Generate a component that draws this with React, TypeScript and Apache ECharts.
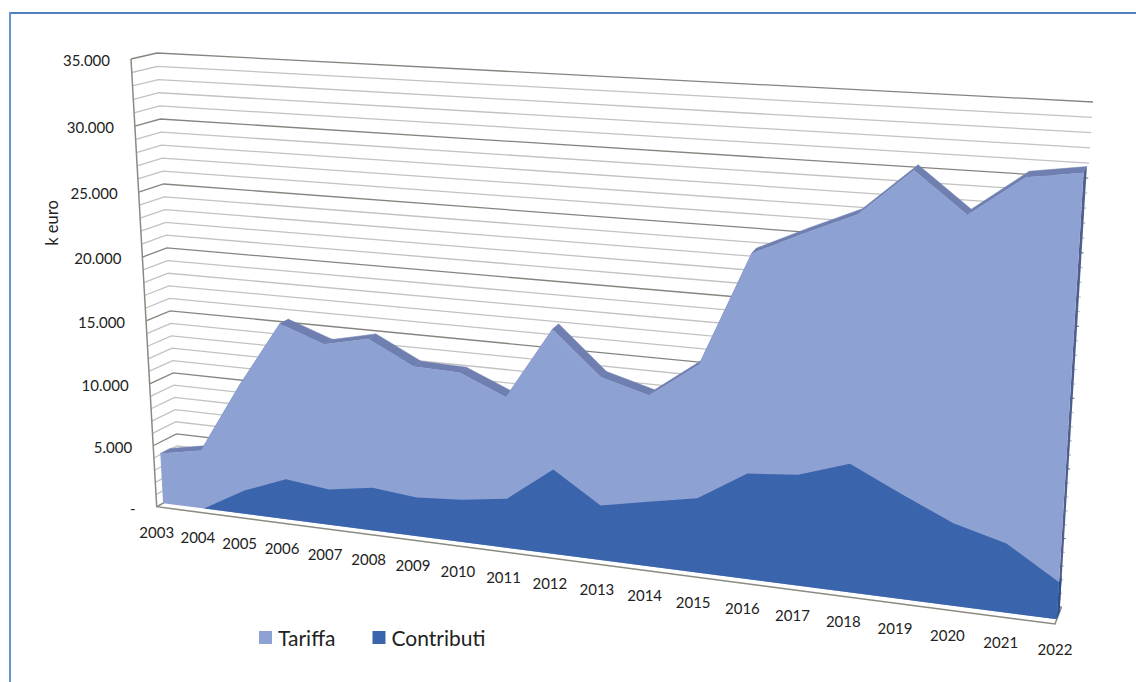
import React, { useEffect, useRef } from "react";
import * as echarts from "echarts";

const years = ["2003","2004","2005","2006","2007","2008","2009","2010","2011","2012","2013","2014","2015","2016","2017","2018","2019","2020","2021","2022"];
const tariffa = [4100,4750,10400,15550,14300,15070,13300,13200,11700,17150,13950,12950,15600,23900,25600,27200,30450,27700,30500,31050];
const contributi = [0,0,1900,3250,2850,3420,3080,3350,3870,6550,4220,4950,5670,7950,8280,9530,7750,6050,5050,2700];
const wallTicks = Array.from({ length: 36 }, (_, i) => i * 1000);
const tickLabels: Record<number, string> = { 0: "-", 5000: "5.000", 10000: "10.000", 15000: "15.000", 20000: "20.000", 25000: "25.000", 30000: "30.000", 35000: "35.000" };

type Pt = [number, number];

// Maps the unit square onto a quadrilateral: p00, p10, p11, p01
function makeWarp(q: Pt[]) {
  const [[x0, y0], [x1, y1], [x2, y2], [x3, y3]] = q;
  const dx1 = x1 - x2, dx2 = x3 - x2, sx = x0 - x1 + x2 - x3;
  const dy1 = y1 - y2, dy2 = y3 - y2, sy = y0 - y1 + y2 - y3;
  const den = dx1 * dy2 - dx2 * dy1;
  const g = (sx * dy2 - dx2 * sy) / den;
  const h = (dx1 * sy - sx * dy1) / den;
  const a = x1 - x0 + g * x1, b = x3 - x0 + h * x3;
  const d = y1 - y0 + g * y1, e = y3 - y0 + h * y3;
  return (u: number, v: number): Pt => {
    const w = g * u + h * v + 1;
    return [(a * u + b * v + x0) / w, (d * u + e * v + y0) / w];
  };
}

// Front and back planes of the chart box, in page pixels
const frontPlane = makeWarp([[156.7, 506.7], [1055, 624], [1085, 116], [131, 59]]);
const backPlane = makeWarp([[179.5, 494], [1061.5, 607], [1093, 102], [157, 53]]);

const DEPTH_FRONT_FACE = 0.28;
const DEPTH_BACK_FACE = 0.7;
const FORESHORTEN = 0.012;

function project(u: number, v: number, t: number): Pt {
  const w = u / (1 + FORESHORTEN * (1 - u));
  const f = frontPlane(w, v);
  const b = backPlane(w, v);
  return [f[0] + (b[0] - f[0]) * t, f[1] + (b[1] - f[1]) * t];
}

// Turns a grid coordinate into the 3D box position
function boxPoint(params: any, api: any, i: number, value: number, t: number): Pt {
  const [px, py] = api.coord([i, value]);
  const r = params.coordSys;
  return project((px - r.x) / r.width, (r.y + r.height - py) / r.height, t);
}

function areaRenderer(values: number[], face: string, ridge: string | null, edge: string) {
  return (params: any, api: any) => {
    if (params.dataIndex !== 0) return null;
    const children: any[] = [];
    const last = values.length - 1;
    if (ridge) {
      for (let i = 0; i < last; i++) {
        const points = [
          boxPoint(params, api, i, values[i], DEPTH_FRONT_FACE),
          boxPoint(params, api, i + 1, values[i + 1], DEPTH_FRONT_FACE),
          boxPoint(params, api, i + 1, values[i + 1], DEPTH_BACK_FACE),
          boxPoint(params, api, i, values[i], DEPTH_BACK_FACE),
        ];
        children.push({ type: "polygon", shape: { points }, style: { fill: ridge, stroke: ridge, lineWidth: 0.5 } });
      }
    }
    children.push({
      type: "polygon",
      shape: {
        points: [
          boxPoint(params, api, last, 0, DEPTH_FRONT_FACE),
          boxPoint(params, api, last, values[last], DEPTH_FRONT_FACE),
          boxPoint(params, api, last, values[last], DEPTH_BACK_FACE),
          boxPoint(params, api, last, 0, DEPTH_BACK_FACE),
        ],
      },
      style: { fill: edge },
    });
    const outline: Pt[] = [boxPoint(params, api, 0, 0, DEPTH_FRONT_FACE)];
    values.forEach((v, i) => outline.push(boxPoint(params, api, i, v, DEPTH_FRONT_FACE)));
    outline.push(boxPoint(params, api, last, 0, DEPTH_FRONT_FACE));
    children.push({ type: "polygon", shape: { points: outline }, style: { fill: face } });
    return { type: "group", children };
  };
}

const FONT = "Lato";

export default function App() {
  const ref = useRef<HTMLDivElement>(null);
  useEffect(() => {
    const chart = echarts.init(ref.current!, null, { renderer: "svg" });
    chart.setOption({
      animation: false,
      backgroundColor: "#ffffff",
      grid: { left: 100, right: 100, top: 100, bottom: 100 },
      xAxis: { type: "category", data: years, boundaryGap: false, show: false },
      yAxis: { type: "value", min: 0, max: 35000, interval: 5000, show: false },
      legend: {
        data: ["Tariffa", "Contributi"],
        left: 259,
        top: 627,
        padding: 0,
        icon: "rect",
        itemWidth: 13,
        itemHeight: 13,
        itemGap: 37,
        textStyle: { fontFamily: FONT, fontSize: 21, color: "#222222", padding: [0, 0, 0, 1] },
      },
      graphic: [
        { type: "line", shape: { x1: 10, y1: 13, x2: 1136, y2: 13 }, style: { stroke: "#4f81bd", lineWidth: 2 } },
        { type: "line", shape: { x1: 10, y1: 12, x2: 10, y2: 682 }, style: { stroke: "#6593d1", lineWidth: 2 } },
        {
          type: "text",
          x: 52,
          y: 223,
          rotation: Math.PI / 2,
          style: { text: "k euro", fill: "#222222", fontFamily: FONT, fontSize: 16.5, textAlign: "center", textVerticalAlign: "middle" },
        },
      ],
      series: [
        {
          type: "custom",
          name: "walls",
          coordinateSystem: "cartesian2d",
          silent: true,
          clip: false,
          z: 1,
          data: wallTicks.map((v) => [0, v]),
          renderItem: (params: any, api: any) => {
            const v = wallTicks[params.dataIndex];
            const major = v % 5000 === 0;
            const r = params.coordSys;
            const [px, py] = api.coord([0, v]);
            const uL = (px - r.x) / r.width;
            const vv = (r.y + r.height - py) / r.height;
            const color = major ? "#85857f" : "#c2c2c2";
            const children: any[] = [
              {
                type: "polyline",
                shape: { points: [project(uL, vv, 0), project(uL, vv, 1), project(1, vv, 1)] },
                style: { stroke: color, lineWidth: 1.3, fill: "none" },
              },
            ];
            const label = tickLabels[v];
            if (label !== undefined) {
              const p = project(uL, vv, 0);
              children.push({
                type: "text",
                x: p[0] - 21,
                y: p[1] + 1,
                style: { text: label, fill: "#222222", fontFamily: FONT, fontSize: 15, textAlign: "right", textVerticalAlign: "middle" },
              });
            }
            return { type: "group", children };
          },
        },
        {
          type: "custom",
          name: "floor",
          coordinateSystem: "cartesian2d",
          silent: true,
          clip: false,
          z: 2,
          data: [[0, 0]],
          renderItem: () => ({
            type: "group",
            children: [
              {
                type: "polyline",
                shape: { points: [project(0, 1, 0), project(0, 0, 0), project(1, 0, 0), project(1, 0, 1)] },
                style: { stroke: "#8a8a80", lineWidth: 1.5, fill: "none" },
              },
              {
                type: "line",
                shape: { x1: project(0, 0, 0)[0], y1: project(0, 0, 0)[1], x2: project(0, 0, 1)[0], y2: project(0, 0, 1)[1] },
                style: { stroke: "#8a8a80", lineWidth: 1.2 },
              },
            ],
          }),
        },
        {
          type: "custom",
          name: "Tariffa",
          coordinateSystem: "cartesian2d",
          silent: true,
          clip: false,
          z: 3,
          itemStyle: { color: "#8ea1d3" },
          data: tariffa.map((v, i) => [i, v]),
          renderItem: areaRenderer(tariffa, "#8ea1d3", "#6f7fb0", "#4f5f8d"),
        },
        {
          type: "custom",
          name: "Contributi",
          coordinateSystem: "cartesian2d",
          silent: true,
          clip: false,
          z: 4,
          itemStyle: { color: "#3a64ac" },
          data: contributi.map((v, i) => [i, v]),
          renderItem: areaRenderer(contributi, "#3a64ac", null, "#2b4d8b"),
        },
        {
          type: "custom",
          name: "yearLabels",
          coordinateSystem: "cartesian2d",
          silent: true,
          clip: false,
          z: 5,
          data: years.map((_, i) => [i, 0]),
          renderItem: (params: any, api: any) => {
            const p = boxPoint(params, api, params.dataIndex, 0, 0);
            return {
              type: "text",
              x: p[0],
              y: p[1] + 25,
              style: { text: years[params.dataIndex], fill: "#222222", fontFamily: FONT, fontSize: 15, textAlign: "center", textVerticalAlign: "middle" },
            };
          },
        },
      ],
    });
    return () => chart.dispose();
  }, []);
  return <div ref={ref} style={{ position: "fixed", left: 0, top: 0, width: 1136, height: 682 }} />;
}
